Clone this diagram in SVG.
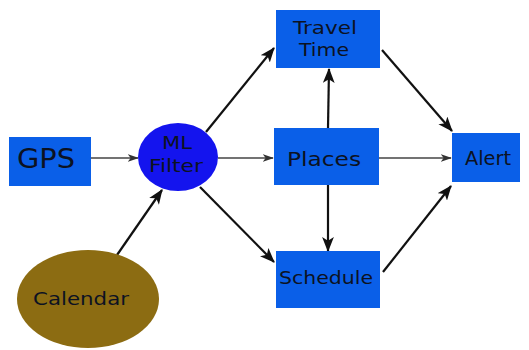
<svg xmlns="http://www.w3.org/2000/svg" width="529" height="350" viewBox="0 0 529 350">
<defs>
<marker id="ah" viewBox="0 0 14 11" refX="13" refY="5.5" markerWidth="15" markerHeight="12" markerUnits="userSpaceOnUse" orient="auto">
<path d="M0,0 L14,5.5 L0,11 L3.5,5.5 Z" fill="#111"/>
</marker>
<marker id="ahs" viewBox="0 0 12 8" refX="11" refY="4" markerWidth="11" markerHeight="8" markerUnits="userSpaceOnUse" orient="auto">
<path d="M0,0 L12,4 L0,8 L3,4 Z" fill="#333"/>
</marker>
<style>
.box{fill:#0a5fe8}
.t{font-family:"DejaVu Sans",sans-serif;fill:#0c1222;text-anchor:middle}
.c{stroke:#111;stroke-width:2.2;fill:none;marker-end:url(#ah)}
.cl{stroke:#444;stroke-width:1.5;fill:none;marker-end:url(#ahs)}
</style>
</defs>
<rect width="529" height="350" fill="#fff"/>
<g id="connectors">
<line class="cl" x1="91" y1="158" x2="138" y2="158"/>
<line class="c" x1="206" y1="132" x2="274" y2="48"/>
<line class="cl" x1="218" y1="158" x2="273" y2="158"/>
<line class="c" x1="200" y1="187" x2="274" y2="262"/>
<line class="c" x1="117" y1="255" x2="162" y2="190"/>
<line class="c" x1="328" y1="128" x2="329" y2="69"/>
<line class="c" x1="328" y1="185" x2="328" y2="251"/>
<line class="cl" x1="379" y1="158" x2="451" y2="158"/>
<line class="c" x1="382" y1="50" x2="452" y2="131"/>
<line class="c" x1="383" y1="272" x2="451" y2="186"/>
</g>
<g id="gps">
<rect class="box" x="9" y="137" width="82" height="49"/>
<text class="t" x="46" y="168" font-size="26" textLength="58" lengthAdjust="spacingAndGlyphs">GPS</text>
</g>
<g id="mlfilter">
<ellipse cx="178" cy="157" rx="40" ry="34" fill="#1414ee"/>
<text class="t" x="177" y="149" font-size="17" textLength="30" lengthAdjust="spacingAndGlyphs">ML</text>
<text class="t" x="176" y="172" font-size="17" textLength="54" lengthAdjust="spacingAndGlyphs">Filter</text>
</g>
<g id="calendar">
<ellipse cx="88" cy="299" rx="71" ry="49" fill="#8c6c12"/>
<text class="t" x="81" y="305" font-size="18" textLength="96" lengthAdjust="spacingAndGlyphs">Calendar</text>
</g>
<g id="traveltime">
<rect class="box" x="276" y="10" width="104" height="58"/>
<text class="t" x="325" y="34" font-size="18" textLength="64" lengthAdjust="spacingAndGlyphs">Travel</text>
<text class="t" x="324" y="56" font-size="18" textLength="50" lengthAdjust="spacingAndGlyphs">Time</text>
</g>
<g id="places">
<rect class="box" x="274" y="128" width="105" height="57"/>
<text class="t" x="324" y="166" font-size="20" textLength="74" lengthAdjust="spacingAndGlyphs">Places</text>
</g>
<g id="schedule">
<rect class="box" x="276" y="251" width="104" height="57"/>
<text class="t" x="326" y="284" font-size="18" textLength="94" lengthAdjust="spacingAndGlyphs">Schedule</text>
</g>
<g id="alert">
<rect class="box" x="452" y="133" width="68" height="49"/>
<text class="t" x="488" y="165" font-size="19" textLength="46" lengthAdjust="spacingAndGlyphs">Alert</text>
</g>
</svg>
